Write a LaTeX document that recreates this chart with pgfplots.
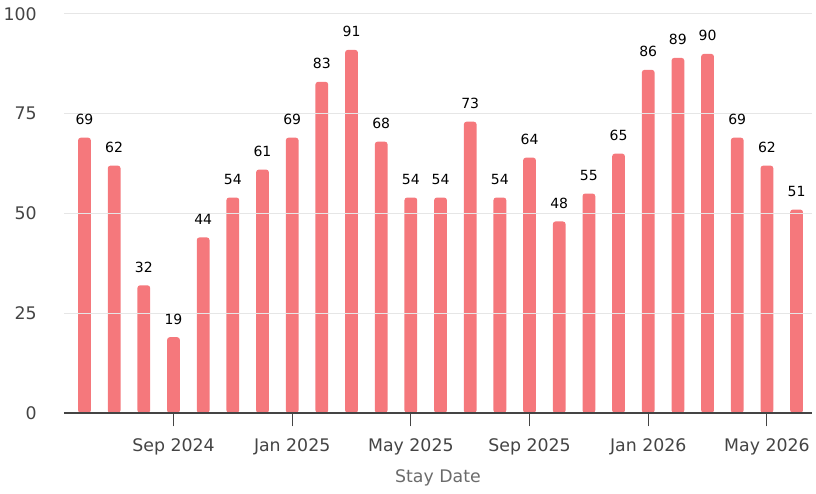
\documentclass[border=0pt]{standalone}
\usepackage{pgfplots}
\pgfplotsset{compat=1.18}
\usepackage{fontspec}
\setmainfont{DejaVu Sans}
\definecolor{barRed}{HTML}{F5787C}
\definecolor{tickGray}{HTML}{444444}
\definecolor{titleGray}{HTML}{6B6B6B}
\definecolor{gridGray}{HTML}{E6E6E6}

\begin{document}
\begin{tikzpicture}
\useasboundingbox (-48pt,-60pt) rectangle (564pt,309.75pt);
\begin{axis}[
    at={(0,0)}, anchor=south west,
    scale only axis,
    width=561pt, height=299.25pt,
    xmin=-0.69, xmax=24.52, ymin=0, ymax=100,
    ybar, bar width=0.43,
    axis on top,
    axis x line*=bottom, axis y line*=left,
    x axis line style={tickGray, line width=1pt, -},
    y axis line style={draw=none},
    /pgf/number format/assume math mode=true,
    xtick={3,7,11,15,19,23},
    xticklabels={Sep 2024, Jan 2025, May 2025, Sep 2025, Jan 2026, May 2026},
    tick align=outside, major tick length=10pt,
    x tick style={tickGray, line width=0.8pt},
    y tick style={draw=none},
    xticklabel style={font=\fontsize{13}{15}\selectfont, text=tickGray, yshift=-6pt},
    ytick={0,25,50,75,100},
    yticklabel style={font=\fontsize{13}{15}\selectfont, text=tickGray, xshift=-7pt},
    ymajorgrids, grid style={gridGray, line width=0.75pt},
    xlabel={Stay Date},
    xlabel style={font=\fontsize{13}{15}\selectfont, text=titleGray, yshift=-4pt},
    nodes near coords,
    every node near coord/.append style={font=\fontsize{10.5}{12}\selectfont, text=black, inner sep=0pt, yshift=9.5pt},
    clip=false,
]
\addplot[fill=barRed, draw=none, rounded corners=2pt] coordinates {
    (0,69)(1,62)(2,32)(3,19)(4,44)(5,54)(6,61)(7,69)(8,83)(9,91)
    (10,68)(11,54)(12,54)(13,73)(14,54)(15,64)(16,48)(17,55)(18,65)
    (19,86)(20,89)(21,90)(22,69)(23,62)(24,51)
};
\end{axis}
\end{tikzpicture}
\end{document}
